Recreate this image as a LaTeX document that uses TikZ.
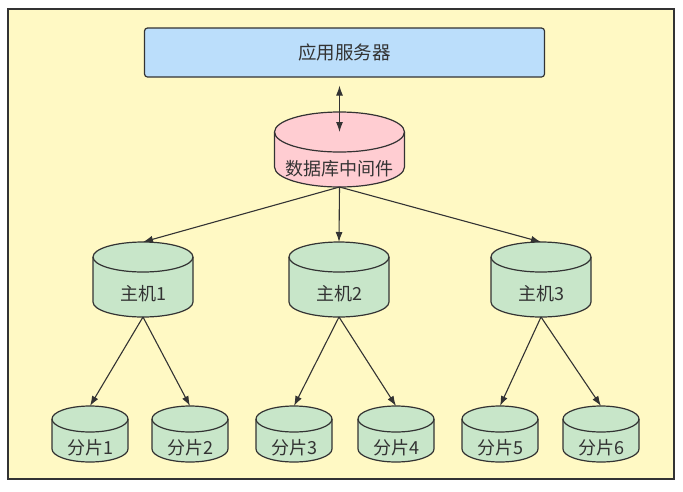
\documentclass[tikz,border=0pt]{standalone}
\usepackage{fontspec}
\setmainfont{Noto Sans CJK SC}
\usepackage{tikz}
\usetikzlibrary{arrows.meta,backgrounds}
\definecolor{paperyellow}{RGB}{255,249,196}
\definecolor{appblue}{RGB}{187,222,251}
\definecolor{midpink}{RGB}{255,205,210}
\definecolor{shardgreen}{RGB}{200,230,201}
\definecolor{linegray}{RGB}{51,51,51}
\definecolor{textgray}{RGB}{51,51,51}
% cylinder outline round a node: node, x radius, y radius, fill
\newcommand{\cylbody}[4]{%
  \filldraw[cylline,fill=#4] ([yshift=-#3]#1.north west) -- ([yshift=#3]#1.south west)
    arc[start angle=180,end angle=360,x radius=#2,y radius=#3]
    -- ([yshift=-#3]#1.north east)
    arc[start angle=0,end angle=180,x radius=#2,y radius=#3] -- cycle;
  \draw[cylline] ([yshift=-#3]#1.north west)
    arc[start angle=180,end angle=360,x radius=#2,y radius=#3];
}
\tikzset{
  outerframe/.style={draw=linegray,fill=paperyellow,line width=1.3pt},
  appbox/.style={rectangle,rounded corners=3pt,draw=linegray,fill=appblue,line width=1.2pt,
    minimum width=400pt,minimum height=49pt,text=textgray,font=\fontsize{18.5}{20}\selectfont},
  dbnode/.style={rectangle,inner sep=0pt,outer sep=0pt,text depth=0pt,text=textgray,
    font=\fontsize{18}{20}\selectfont},
  midcyl/.style={dbnode,minimum width=130pt,minimum height=75pt,text height=51pt},
  hostcyl/.style={dbnode,minimum width=100pt,minimum height=75pt,text height=41pt},
  shardcyl/.style={dbnode,minimum width=76pt,minimum height=56pt,text height=40pt},
  cylline/.style={draw=linegray,line width=1.2pt},
  arr/.style={-{Latex[length=10pt,width=7pt]},line width=1.1pt,draw=linegray},
  dblarr/.style={{Latex[length=10pt,width=7pt]}-{Latex[length=10pt,width=7pt]},line width=1.1pt,draw=linegray}
}

\begin{document}
\begin{tikzpicture}[x=1pt,y=-1pt]
\useasboundingbox (0,0) rectangle (683,491);

% application server
\node[appbox] (app) at (344.5,52.5) {应用服务器};

% middleware, hosts, shards
\node[midcyl] (mid) at (339.5,149.5) {数据库中间件};
\foreach \h/\x in {1/143,2/339,3/541}{
  \node[hostcyl] (host\h) at (\x,279.5) {主机\h};
}
\foreach \s/\x in {1/90,2/190,3/294,4/396,5/500,6/601}{
  \node[shardcyl] (shard\s) at (\x,434) {分片\s};
}

\begin{scope}[on background layer]
  \draw[outerframe] (8,9) rectangle (674,479);
  \cylbody{mid}{65pt}{20pt}{midpink}
  \foreach \h in {1,2,3}{
    \cylbody{host\h}{50pt}{15pt}{shardgreen}
  }
  \foreach \s in {1,...,6}{
    \cylbody{shard\s}{38pt}{13pt}{shardgreen}
  }
\end{scope}

\coordinate (appfoot) at ([yshift=-8pt]app.south);
\draw[dblarr] (appfoot -| mid.north) -- ([yshift=-20pt]mid.north);

\foreach \h in {1,2,3}{
  \draw[arr] (mid.south) -- (host\h.north);
}
\foreach \s/\h in {1/1,2/1,3/2,4/2,5/3,6/3}{
  \draw[arr] (host\h.south) -- (shard\s.north);
}

\end{tikzpicture}
\end{document}
